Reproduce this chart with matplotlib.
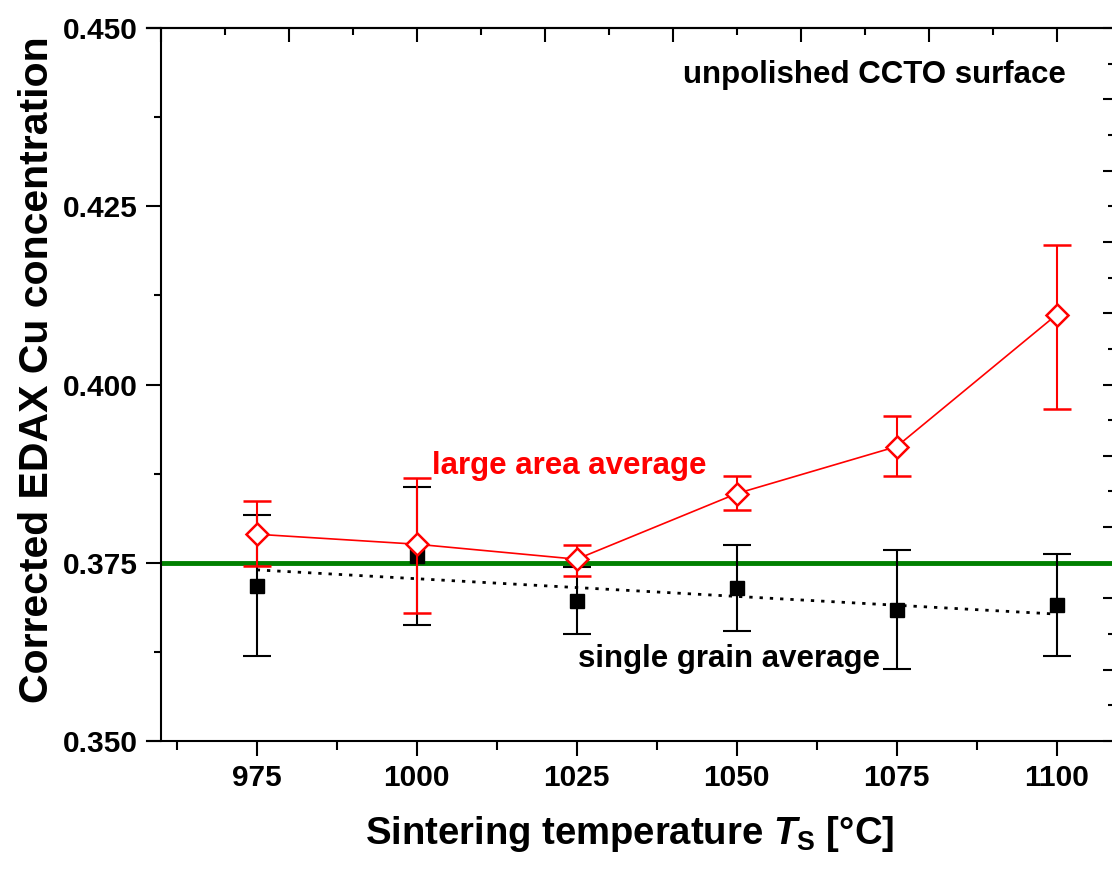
import numpy as np
import matplotlib
matplotlib.use("Agg")
import matplotlib.pyplot as plt
from matplotlib.ticker import MultipleLocator, NullFormatter

# sintering temperatures
temps = [975, 1000, 1025, 1050, 1075, 1100]

# large area average (red)
large_y = [0.3790, 0.3776, 0.3755, 0.3847, 0.3913, 0.4098]
large_lo = [0.3746, 0.3679, 0.3731, 0.3824, 0.3871, 0.3965]
large_hi = [0.3836, 0.3869, 0.3775, 0.3871, 0.3956, 0.4195]

# single grain average (black)
grain_y = [0.3718, 0.3760, 0.3697, 0.3715, 0.3684, 0.3691]
grain_lo = [0.3619, 0.3663, 0.3650, 0.3654, 0.3601, 0.3619]
grain_hi = [0.3817, 0.3856, 0.3744, 0.3775, 0.3768, 0.3762]

# linear fit through the single grain data
fit_x = [975, 1100]
fit_y = [0.3740, 0.3678]

nominal = 0.375  # stoichiometric value

plt.rcParams['font.family'] = ['Liberation Sans', 'DejaVu Sans']
plt.rcParams['font.weight'] = 'bold'
plt.rcParams['mathtext.fontset'] = 'custom'
plt.rcParams['mathtext.it'] = 'Liberation Sans:bold:italic'
plt.rcParams['mathtext.rm'] = 'Liberation Sans'
plt.rcParams['mathtext.bf'] = 'Liberation Sans:bold'

fig = plt.figure(figsize=(11.12, 8.73), dpi=100)
ax = fig.add_axes([147 / 1112, 1 - 741 / 873, 1 - 147 / 1112, (741 - 28) / 873])

ax.set_xlim(957.86, 1108.64)
ax.set_ylim(0.350, 0.450)

ax.hlines(nominal, 960, 1108.64, color='#008000', lw=3.5, zorder=2)

ax.plot(fit_x, fit_y, color='black', lw=2, linestyle=(0, (1.2, 2.5)), zorder=3)

g_err = [np.array(grain_y) - np.array(grain_lo), np.array(grain_hi) - np.array(grain_y)]
ax.errorbar(temps, grain_y, yerr=g_err, fmt='s', color='black', ms=10.5,
            elinewidth=1.5, capsize=10, capthick=1.5, zorder=4)

l_err = [np.array(large_y) - np.array(large_lo), np.array(large_hi) - np.array(large_y)]
ax.errorbar(temps, large_y, yerr=l_err, fmt='-D', color='red', mfc='white', mec='red',
            mew=1.8, ms=11.5, lw=1.2, elinewidth=1.5, capsize=10, capthick=1.5, zorder=5)

# spines
ax.spines['left'].set_position(('data', 960))
ax.spines['right'].set_visible(False)
for s in ['left', 'bottom', 'top']:
    ax.spines[s].set_linewidth(1.5)

ax.xaxis.set_major_locator(MultipleLocator(25))
ax.xaxis.set_minor_locator(MultipleLocator(12.5))
ax.yaxis.set_major_locator(MultipleLocator(0.025))
ax.yaxis.set_minor_locator(MultipleLocator(0.0125))
ax.yaxis.set_major_formatter(plt.FormatStrFormatter('%.3f'))
ax.tick_params(axis='both', which='major', direction='out', length=10.5, width=1.5,
               labelsize=21.5, pad=6, top=False, right=False)
ax.tick_params(axis='x', which='minor', direction='out', length=6.5, width=1.5, top=False)
ax.tick_params(axis='y', which='minor', direction='out', length=5, width=1.5, right=False)

# top axis: ticks every 20 (minor 10), inward
top = ax.secondary_xaxis('top')
top.xaxis.set_major_locator(MultipleLocator(20))
top.xaxis.set_minor_locator(MultipleLocator(10))
top.xaxis.set_major_formatter(NullFormatter())
top.tick_params(which='major', direction='in', length=10, width=1.5)
top.tick_params(which='minor', direction='in', length=5, width=1.5)
top.spines['top'].set_linewidth(1.5)

# right axis: ticks every 0.01 (minor 0.005), inward
right = ax.secondary_yaxis('right')
right.yaxis.set_major_locator(MultipleLocator(0.01))
right.yaxis.set_minor_locator(MultipleLocator(0.005))
right.yaxis.set_major_formatter(NullFormatter())
right.tick_params(which='major', direction='in', length=6.5, width=1.5)
right.tick_params(which='minor', direction='in', length=3, width=1.5)
right.spines['right'].set_visible(False)

ax.set_xlabel(r'Sintering temperature $T_{\mathrm{S}}$ [°C]', fontsize=27.5, fontweight='bold', labelpad=16)
ax.set_ylabel('Corrected EDAX Cu concentration', fontsize=29.5, fontweight='bold')
ax.yaxis.set_label_coords((56 - 147) / 965, 1 - (370 - 28) / 713)

ax.text(1071.5, 0.4434, 'unpolished CCTO surface', fontsize=22.5, fontweight='bold',
        ha='center', va='center', color='black')
ax.text(1023.9, 0.3886, 'large area average', fontsize=22.5, fontweight='bold',
        ha='center', va='center', color='red')
ax.text(1048.8, 0.3615, 'single grain average', fontsize=22.5, fontweight='bold',
        ha='center', va='center', color='black')

fig.savefig('out.png', dpi=100)
